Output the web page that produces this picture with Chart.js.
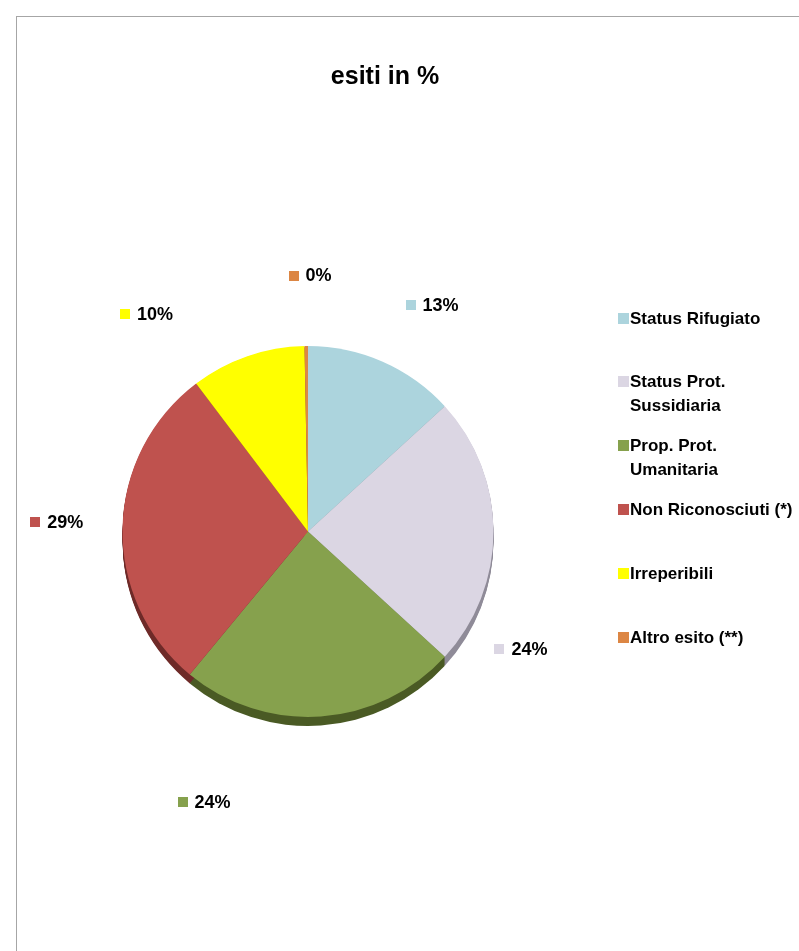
<!DOCTYPE html>
<html><head><meta charset="utf-8">
<script src="https://cdn.jsdelivr.net/npm/chart.js@4/dist/chart.umd.min.js"></script>
<style>
html,body{margin:0;padding:0;background:#fff;width:799px;height:951px;overflow:hidden}
#frame{position:absolute;left:16px;top:16px;width:900px;height:1000px;border:1px solid #a6a6a6;box-sizing:border-box}
#wrap{position:absolute;left:0;top:0;width:799px;height:951px}
</style></head><body>
<div id="frame"></div>
<div id="wrap"><canvas id="c" width="799" height="951"></canvas></div>
<script>
// ---- data ----
const chartTitle = "esiti in %";
const categories = ["Status Rifugiato", ["Status Prot.", "Sussidiaria"], ["Prop. Prot.", "Umanitaria"], "Non Riconosciuti (*)", "Irreperibili", "Altro esito (**)"];
const values = [13.2, 23.6, 24.2, 28.7, 10.0, 0.3];

// ---- styles ----
const sliceColors = ["#acd4dd", "#dbd6e3", "#86a14d", "#bf524e", "#ffff00", "#dc8644"];
const sideColors  = ["#6f9aa3", "#8f8b98", "#4a5a24", "#6e2a28", "#a3a300", "#8a5020"];
const labelAngleShift = [5, 28.8, 25, 1, -17.5, 1];      // degrees
const labelRadius     = [1.39, 1.31, 1.56, 1.355, 1.46, 1.38]; // x outer radius
const FONT = "'Liberation Sans', Arial, sans-serif";

const total = values.reduce((a, b) => a + b, 0);
const pctText = values.map(v => Math.round(v / total * 100) + "%");

const sidePlugin = {
  id: 'side3d',
  beforeDatasetsDraw(chart) {
    const ctx = chart.ctx;
    const meta = chart.getDatasetMeta(0);
    meta.data.forEach((arc, i) => {
      const p = arc.getProps(['x', 'y', 'startAngle', 'endAngle', 'outerRadius'], true);
      for (let k = 1; k <= 9; k++) {
        ctx.save();
        ctx.beginPath();
        ctx.moveTo(p.x, p.y + k);
        ctx.arc(p.x, p.y + k, p.outerRadius, p.startAngle, p.endAngle);
        ctx.closePath();
        ctx.fillStyle = sideColors[i];
        ctx.fill();
        ctx.restore();
      }
    });
  }
};

const labelPlugin = {
  id: 'pctLabels',
  afterDatasetsDraw(chart) {
    const ctx = chart.ctx;
    const meta = chart.getDatasetMeta(0);
    ctx.save();
    ctx.font = "bold 18px " + FONT;
    ctx.textBaseline = 'middle';
    meta.data.forEach((arc, i) => {
      const p = arc.getProps(['x', 'y', 'startAngle', 'endAngle', 'outerRadius'], true);
      const mid = (p.startAngle + p.endAngle) / 2 + labelAngleShift[i] * Math.PI / 180;
      const r = p.outerRadius * labelRadius[i];
      const cx = p.x + Math.cos(mid) * r;
      const cy = p.y + Math.sin(mid) * r;
      const tw = ctx.measureText(pctText[i]).width;
      const sq = 10, gap = 7;
      const w = sq + gap + tw;
      const x0 = cx - w / 2;
      ctx.fillStyle = sliceColors[i];
      ctx.fillRect(Math.round(x0), Math.round(cy - sq / 2), sq, sq);
      ctx.fillStyle = '#000';
      ctx.textAlign = 'left';
      ctx.fillText(pctText[i], x0 + sq + gap, cy + 1);
    });
    ctx.restore();
  }
};

const titleLegendPlugin = {
  id: 'titleLegend',
  afterDraw(chart) {
    const ctx = chart.ctx;
    ctx.save();
    ctx.fillStyle = '#000';
    ctx.font = "bold 25px " + FONT;
    ctx.textAlign = 'center';
    ctx.textBaseline = 'middle';
    ctx.fillText(chartTitle, 385, 77);
    // legend
    const lx = 618, top = 318, step = 63.8, lineH = 24, sq = 11;
    ctx.font = "bold 17px " + FONT;
    ctx.textAlign = 'left';
    categories.forEach((c, i) => {
      const lines = Array.isArray(c) ? c : [c];
      const y = top + i * step;
      ctx.fillStyle = sliceColors[i];
      ctx.fillRect(lx, Math.round(y - sq / 2), sq, sq);
      ctx.fillStyle = '#000';
      lines.forEach((ln, j) => ctx.fillText(ln, lx + sq + 1, y + 1 + j * lineH));
    });
    ctx.restore();
  }
};

new Chart(document.getElementById('c'), {
  type: 'pie',
  data: {
    labels: categories,
    datasets: [{
      data: values,
      backgroundColor: sliceColors,
      borderWidth: 0,
      hoverOffset: 0,
      offset: 0
    }]
  },
  options: {
    responsive: false,
    animation: false,
    events: [],
    layout: { padding: { left: 122, right: 305, top: 346, bottom: 234 } },
    plugins: {
      legend: { display: false },
      title: { display: false },
      tooltip: { enabled: false }
    }
  },
  plugins: [sidePlugin, labelPlugin, titleLegendPlugin]
});
</script>
</body></html>
